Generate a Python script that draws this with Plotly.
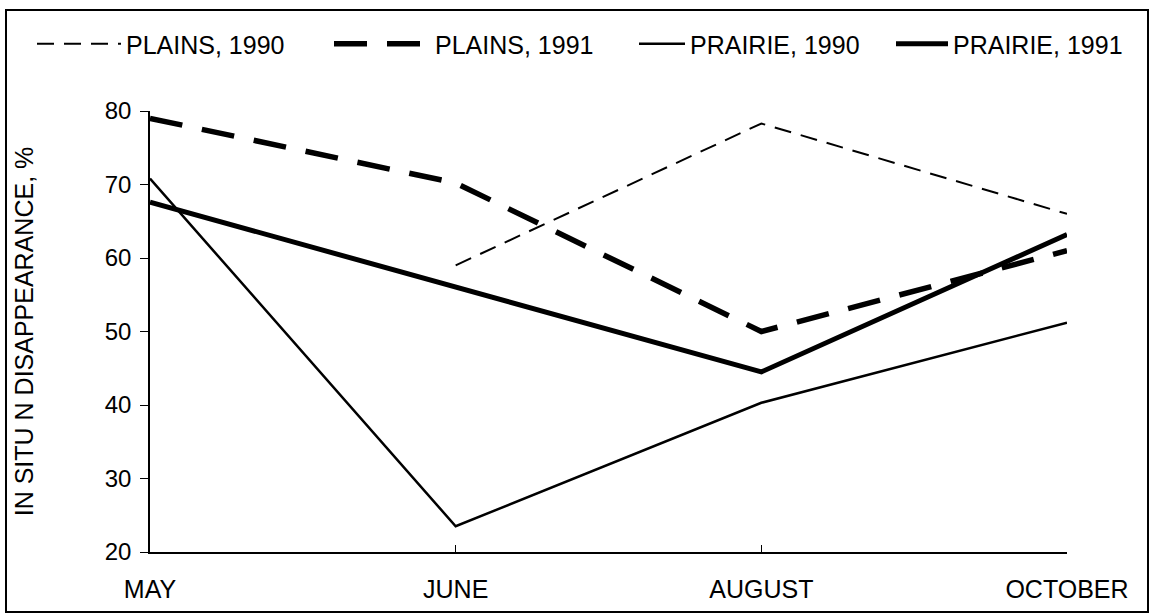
import plotly.graph_objects as go

months = ["MAY", "JUNE", "AUGUST", "OCTOBER"]
plains_1990 = [None, 59, 78.3, 66]
plains_1991 = [79, 70.2, 50, 61]
prairie_1990 = [70.8, 23.5, 40.3, 51.2]
prairie_1991 = [67.6, 56, 44.5, 63.2]
y_ticks = [20, 30, 40, 50, 60, 70, 80]

xs = list(range(len(months)))
FONT = "Liberation Sans, Arial, sans-serif"

W, H = 1153, 616
L, R, T, B = 150, 86, 111, 64
pw, ph = W - L - R, H - T - B


def px_x(x):
    return (x - L) / pw


def px_y(y):
    return (H - B - y) / ph


series = [
    ("PLAINS, 1990", plains_1990, dict(color="black", width=2, dash="17px,10px"), 32, 84),
    ("PLAINS, 1991", plains_1991, dict(color="black", width=5.5, dash="33px,20px"), 329, 96),
    ("PRAIRIE, 1990", prairie_1990, dict(color="black", width=2.5), 634, 46),
    ("PRAIRIE, 1991", prairie_1991, dict(color="black", width=5), 891, 52),
]

fig = go.Figure()
legends = {}
for i, (name, vals, line, lx, iw) in enumerate(series):
    lname = "legend" if i == 0 else f"legend{i + 1}"
    fig.add_trace(go.Scatter(x=xs, y=vals, mode="lines", name=name, line=line,
                             legend=lname, showlegend=True, hoverinfo="skip"))
    legends[lname] = dict(x=px_x(lx), xanchor="left", y=px_y(44), yanchor="middle",
                          orientation="h", font=dict(size=25, family=FONT, color="black"),
                          bgcolor="rgba(0,0,0,0)", itemwidth=iw, borderwidth=0)

fig.update_layout(
    width=W, height=H,
    margin=dict(l=L, r=R, t=T, b=B, autoexpand=False),
    paper_bgcolor="white", plot_bgcolor="white",
    font=dict(family=FONT, size=24, color="black"),
    showlegend=True,
    xaxis=dict(range=[0, 3], tickmode="array", tickvals=xs, ticktext=months,
               showgrid=False, zeroline=False, showline=True, linecolor="black",
               linewidth=2, ticks="inside", ticklen=7, tickcolor="black",
               tickfont=dict(size=25), ticklabelstandoff=14),
    yaxis=dict(range=[20, 80], tickmode="array", tickvals=y_ticks,
               showgrid=False, zeroline=False, showline=True, linecolor="black",
               linewidth=1.5, ticks="outside", ticklen=8, tickcolor="black",
               tickfont=dict(size=24), ticklabelstandoff=4,
               title=dict(text="IN SITU N DISAPPEARANCE, %", font=dict(size=25),
                          standoff=64)),
    shapes=[dict(type="rect", xref="paper", yref="paper",
                 x0=px_x(6), x1=px_x(1148), y0=px_y(612), y1=px_y(10),
                 line=dict(color="black", width=2), fillcolor="rgba(0,0,0,0)")],
    **legends,
)

fig.write_html("out.html", config={"displayModeBar": False},
               post_script="document.body.style.margin='0';document.body.style.overflow='hidden';")
